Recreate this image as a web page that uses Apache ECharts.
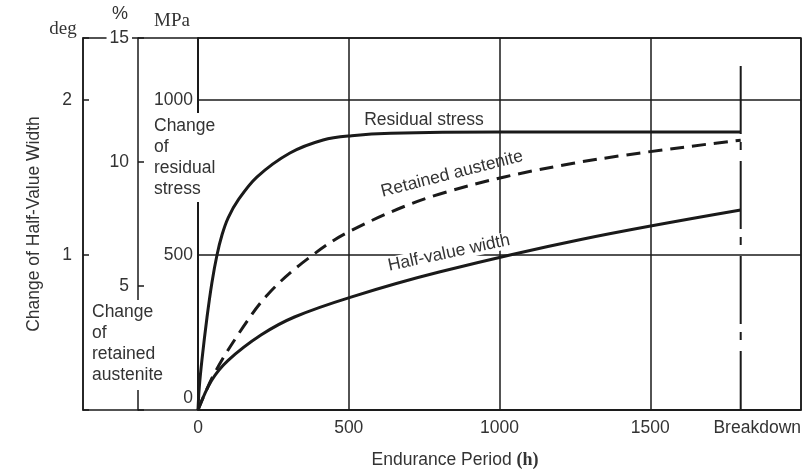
<!DOCTYPE html>
<html>
<head>
<meta charset="utf-8">
<script src="https://cdn.jsdelivr.net/npm/echarts@6.0.0/dist/echarts.min.js"></script>
<style>html,body{margin:0;padding:0;background:#fff}#c{width:806px;height:472px}</style>
</head>
<body>
<div id="c"></div>
<script>
// ---- data ----
const residualHours = [0, 4, 13, 30, 46, 63, 80, 100, 133, 196, 305, 415, 510, 640, 1000, 1800];
const residualMPa   = [0, 70, 161, 300, 410, 500, 566, 620, 677, 752, 829, 871, 885, 893, 897, 897];

const austeniteHours   = [0, 55, 150, 230, 345, 505, 805, 1245, 1800];
const austenitePercent = [0, 1.49, 3.35, 4.64, 5.92, 7.22, 8.72, 9.95, 10.88];

const halfWidthHours = [0, 45, 100, 210, 320, 510, 800, 1270, 1800];
const halfWidthDeg   = [0, 0.19, 0.32, 0.485, 0.60, 0.73, 0.89, 1.10, 1.29];

const breakdownHours = [1800, 1800];
const breakdownMPa   = [1110, 0];

const xTickLabels = {0: '0', 500: '500', 1000: '1000', 1500: '1500', 2000: 'Breakdown'};
const degTickLabels = {1: '1', 2: '2'};
const pctTickLabels = {5: '5', 10: '10', 15: '15'};
const mpaTickLabels = {0: '0', 500: '500', 1000: '1000'};

// ---- chart ----
const FONT = '"Liberation Sans", Arial, sans-serif';
const SERIF = '"Liberation Serif", "DejaVu Serif", serif';
const INK = '#1a1a1a';
const TXT = '#333';
const FS = 17.5;

const pairs = (xs, ys) => xs.map((x, i) => [x, ys[i]]);
const lineSt = {color: INK, width: 1.5};

const chart = echarts.init(document.getElementById('c'), null, {renderer: 'canvas'});
const option = {
  animation: false,
  backgroundColor: '#fff',
  grid: [
    {left: 198, right: 5, top: 38, bottom: 62, show: true, borderColor: INK, borderWidth: 1.5},
    {left: 83, width: 115, top: 38, bottom: 62, show: true, borderColor: INK, borderWidth: 1.5}
  ],
  xAxis: [
    {
      gridIndex: 0, type: 'value', min: 0, max: 2000, interval: 500,
      axisLine: {show: true, lineStyle: lineSt},
      axisTick: {show: false},
      splitLine: {show: true, lineStyle: lineSt},
      axisLabel: {
        margin: 9, fontSize: FS, fontFamily: FONT, color: TXT,
        alignMaxLabel: 'right',
        formatter: v => xTickLabels[v] !== undefined ? xTickLabels[v] : ''
      }
    },
    {gridIndex: 1, type: 'value', min: 0, max: 1, show: false}
  ],
  yAxis: [
    {
      gridIndex: 0, type: 'value', min: 0, max: 1200, interval: 500, position: 'left',
      axisLine: {show: true, lineStyle: lineSt},
      axisTick: {show: false},
      splitLine: {show: true, lineStyle: lineSt},
      axisLabel: {
        margin: 5, fontSize: FS, fontFamily: FONT, color: TXT,
        formatter: v => v === 0 ? '{z|0}' : (mpaTickLabels[v] || ''),
        rich: {z: {fontSize: FS, fontFamily: FONT, color: TXT, padding: [0, 0, 24, 0]}}
      },
      z: 5
    },
    {
      gridIndex: 0, type: 'value', min: 0, max: 15, interval: 5, position: 'left', offset: 60,
      axisLine: {show: true, lineStyle: lineSt},
      axisTick: {show: true, inside: true, length: 6, lineStyle: lineSt},
      splitLine: {show: false},
      axisLabel: {
        margin: 6, fontSize: FS, fontFamily: FONT, color: TXT,
        backgroundColor: '#fff', padding: [0, 3],
        formatter: v => pctTickLabels[v] || ''
      },
      z: 5
    },
    {
      gridIndex: 0, type: 'value', min: 0, max: 2.4, interval: 1, position: 'left', offset: 115,
      name: 'Change of Half-Value Width', nameLocation: 'middle', nameGap: 40, nameRotate: 90,
      nameTextStyle: {fontSize: FS, fontFamily: FONT, color: TXT},
      axisLine: {show: true, lineStyle: lineSt},
      axisTick: {show: true, inside: true, length: 6, lineStyle: lineSt},
      splitLine: {show: false},
      axisLabel: {
        margin: 11, fontSize: FS, fontFamily: FONT, color: TXT,
        formatter: v => degTickLabels[v] || ''
      },
      z: 5
    },
    {gridIndex: 1, type: 'value', min: 0, max: 1, show: false}
  ],
  series: [
    {
      name: 'Residual stress', type: 'line', xAxisIndex: 0, yAxisIndex: 0,
      data: pairs(residualHours, residualMPa),
      showSymbol: false, smooth: 0.35,
      lineStyle: {color: INK, width: 3}, z: 3
    },
    {
      name: 'Retained austenite', type: 'line', xAxisIndex: 0, yAxisIndex: 1,
      data: pairs(austeniteHours, austenitePercent),
      showSymbol: false, smooth: 0.35,
      lineStyle: {color: INK, width: 3, type: [14, 8]}, z: 3
    },
    {
      name: 'Half-value width', type: 'line', xAxisIndex: 0, yAxisIndex: 2,
      data: pairs(halfWidthHours, halfWidthDeg),
      showSymbol: false, smooth: 0.35,
      lineStyle: {color: INK, width: 3}, z: 3
    },
    {
      name: 'Breakdown', type: 'line', xAxisIndex: 0, yAxisIndex: 0,
      data: pairs(breakdownHours, breakdownMPa),
      showSymbol: false, silent: true,
      lineStyle: {color: INK, width: 2, type: [68, 8, 8, 11]}, z: 2
    }
  ],
  graphic: [
    {type: 'text', x: 63, y: 29, z: 100, style: {text: 'deg', font: '19px ' + SERIF, fill: TXT, align: 'center', verticalAlign: 'middle'}},
    {type: 'text', x: 120, y: 14, z: 100, style: {text: '%', font: '18px ' + FONT, fill: TXT, align: 'center', verticalAlign: 'middle'}},
    {type: 'text', x: 172, y: 21, z: 100, style: {text: 'MPa', font: '19px ' + SERIF, fill: TXT, align: 'center', verticalAlign: 'middle'}},
    {type: 'text', x: 152, y: 113, z: 100, style: {
      text: 'Change\nof\nresidual\nstress', font: FS + 'px ' + FONT, fill: TXT, lineHeight: 21,
      align: 'left', verticalAlign: 'top', backgroundColor: '#fff', padding: [3, 3, 2, 2]}},
    {type: 'text', x: 90, y: 300, z: 100, style: {
      text: 'Change\nof\nretained\naustenite', font: FS + 'px ' + FONT, fill: TXT, lineHeight: 21,
      align: 'left', verticalAlign: 'top', backgroundColor: '#fff', padding: [2, 2, 4, 2]}},
    {type: 'text', x: 424, y: 120, z: 100, style: {text: 'Residual stress', font: FS + 'px ' + FONT, fill: TXT, align: 'center', verticalAlign: 'middle'}},
    {type: 'text', x: 452, y: 174, z: 100, rotation: 0.25, style: {text: 'Retained austenite', font: FS + 'px ' + FONT, fill: TXT, align: 'center', verticalAlign: 'middle'}},
    {type: 'text', x: 449, y: 253, z: 100, rotation: 0.212, style: {text: 'Half-value width', font: FS + 'px ' + FONT, fill: TXT, align: 'center', verticalAlign: 'middle', backgroundColor: '#fff', lineHeight: 17}},
    {type: 'text', x: 455, y: 460, z: 100, style: {
      text: '{a|Endurance Period }{b|(h)}', align: 'center', verticalAlign: 'middle',
      rich: {a: {fontSize: FS, fontFamily: FONT, fill: TXT}, b: {fontSize: 18, fontFamily: SERIF, fontWeight: 'bold', fill: TXT}}}}
  ]
};
chart.setOption(option);
</script>
</body>
</html>
